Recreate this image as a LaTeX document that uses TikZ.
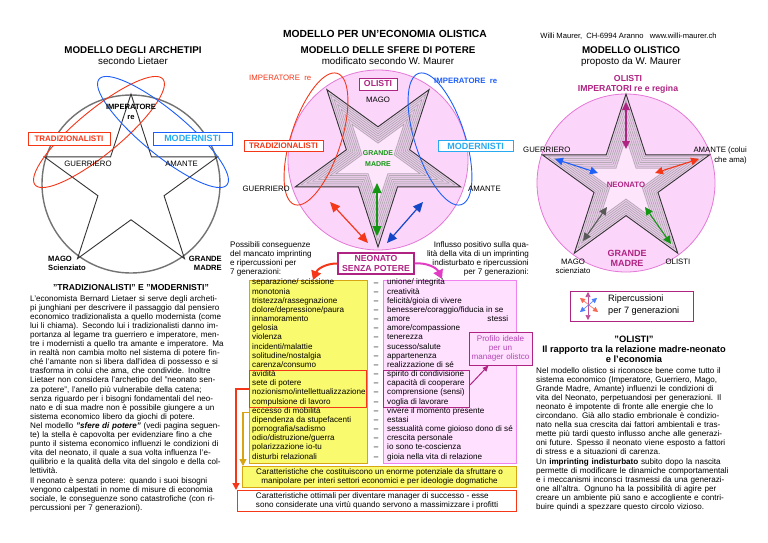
\documentclass[tikz,border=0pt]{standalone}
\usepackage{fontspec}
\setmainfont{Liberation Sans}
\usetikzlibrary{arrows.meta}

\definecolor{pinkfill}{RGB}{252,214,250}
\definecolor{pinkline}{RGB}{228,120,214}
\definecolor{starfill}{RGB}{232,202,232}
\definecolor{starcore}{RGB}{253,230,252}
\definecolor{olred}{RGB}{245,55,25}
\definecolor{olblue}{RGB}{30,95,250}
\definecolor{olcyan}{RGB}{40,170,240}
\definecolor{oldblue}{RGB}{20,70,200}
\definecolor{olgreen}{RGB}{20,150,20}
\definecolor{olmag}{RGB}{175,35,130}
\definecolor{olpink}{RGB}{225,60,195}
\definecolor{olyellow}{RGB}{250,250,110}
\definecolor{olgold}{RGB}{215,165,20}
\definecolor{boxpink}{RGB}{255,225,255}
\definecolor{boxline}{RGB}{240,130,240}
\definecolor{proftext}{RGB}{180,70,180}

\newcommand{\bodyf}{\fontsize{8.1}{9.1}\selectfont}
\newcommand{\listf}{\fontsize{8.1}{9.16}\selectfont}
\newcommand{\lblf}{\fontsize{7.8}{9}\selectfont}
\newcommand{\headf}{\fontsize{9.8}{11}\selectfont}
% one justified line of a paragraph
\newcommand{\jl}[1]{\makebox[\linewidth][s]{#1}\\}
% five pointed star: radius, angle of first tip
\newcommand{\pentagram}[2]{({#2}:{#1}) \foreach \k in {1,...,9}{ -- ({#2+36*\k}:{(#1)*(1-0.618*mod(\k,2))}) } -- cycle}

\begin{document}
\begin{tikzpicture}[x=1pt,y=-1pt,font=\lblf]
\tikzstyle{every node}=[inner sep=0pt]
\tikzstyle{heading}=[font=\headf\bfseries,anchor=base]
\tikzstyle{subheading}=[font=\headf,anchor=base]
\tikzstyle{tag}=[draw,fill=white,line width=0.8pt,font=\fontsize{8}{9}\selectfont\bfseries]
\tikzstyle{para}=[font=\bodyf,align=left,anchor=base west]
\tikzstyle{bigarrow}=[{Triangle[length=10pt,width=9pt]}-{Triangle[length=10pt,width=9pt]},line width=1.2pt]
\tikzstyle{midarrow}=[{Triangle[length=8pt,width=7.5pt]}-{Triangle[length=8pt,width=7.5pt]},line width=1.1pt]
\tikzstyle{tinyarrow}=[{Triangle[length=5pt,width=5pt]}-{Triangle[length=5pt,width=5pt]},line width=0.6pt]
\tikzstyle{starline}=[draw=black!80,line width=0.9pt]
\tikzstyle{nestline}=[draw=black!40,line width=0.35pt]

\fill[white] (0,0) rectangle (768,543);
\useasboundingbox (0,0) rectangle (768,543);

% titles (multi-line nodes sit on the baseline of their last line)
\node[heading,font=\fontsize{10.3}{12}\selectfont\bfseries] (maintitle) at (385,37.7) {MODELLO PER UN'ECONOMIA OLISTICA};
\node[anchor=base,font=\fontsize{7.6}{9}\selectfont] (author) at (628.5,38) {Willi Maurer,\ \ CH-6994 Aranno\ \ \ www.willi-maurer.ch};
\node[heading] (archtitle) at (133,53.5) {MODELLO DEGLI ARCHETIPI};
\node[subheading] (archsub) at (133,64.5) {secondo Lietaer};
\node[heading] (sferetitle) at (388,53.5) {MODELLO DELLE SFERE DI POTERE};
\node[subheading] (sferesub) at (388,64.5) {modificato secondo W. Maurer};
\node[heading] (olititle) at (631,53.5) {MODELLO OLISTICO};
\node[subheading] (olisub) at (631,64.5) {proposto da W. Maurer};

% archetypes after Lietaer
\begin{scope}[shift={(131,185)}]
  \draw[draw=black!55,line width=1.4pt] (0,-1) circle[radius=89pt];
  \draw[starline] \pentagram{91}{-90};
\end{scope}
\draw[olred,line width=0.9pt,rotate around={39.6:(99,132)}] (99,132) ellipse[x radius=83pt,y radius=22pt];
\draw[olblue,line width=0.9pt,rotate around={140.4:(163,132)}] (163,132) ellipse[x radius=83pt,y radius=22pt];

\node[font=\fontsize{7.6}{9.5}\selectfont\bfseries,align=center,anchor=base] (impL) at (131,119) {IMPERATORE\\re};
\node[tag,draw=olred,text=olred,minimum width=82pt,minimum height=13pt] (tradL) at (69,138.5) {TRADIZIONALISTI};
\node[tag,draw=olblue,text=olcyan,font=\fontsize{9}{10}\selectfont\bfseries,minimum width=79pt,minimum height=13pt] (modL) at (192.5,138.5) {MODERNISTI};
\node[anchor=base] (guerL) at (88,166) {GUERRIERO};
\node[anchor=base] (amaL) at (181.5,166) {AMANTE};
\node[font=\fontsize{7.6}{9}\selectfont\bfseries,align=left,anchor=base west] (magoL) at (48,270) {MAGO\\Scienziato};
\node[font=\fontsize{7.6}{9}\selectfont\bfseries,align=right,anchor=base east] (madreL) at (222,270) {GRANDE\\MADRE};

\node[heading,font=\fontsize{8.6}{10}\selectfont\bfseries] (tmtitle) at (131,290) {"TRADIZIONALISTI" E "MODERNISTI"};
\node[para,text width=198pt] (tmtext) at (30,301) {%
\jl{L'economista Bernard Lietaer si serve degli archeti-}
\jl{pi junghiani per descrivere il passaggio dal pensiero}
\jl{economico tradizionalista a quello modernista (come}
\jl{lui li chiama). Secondo lui i tradizionalisti danno im-}
\jl{portanza al legame tra guerriero e imperatore, men-}
\jl{tre i modernisti a quello tra amante e imperatore. Ma}
\jl{in realtà non cambia molto nel sistema di potere fin-}
\jl{ché l'amante non si libera dall'idea di possesso e si}
\jl{trasforma in colui che ama, che condivide. Inoltre}
\jl{Lietaer non considera l'archetipo del "neonato sen-}
\jl{za potere", l'anello più vulnerabile della catena;}
\jl{senza riguardo per i bisogni fondamentali del neo-}
\jl{nato e di sua madre non è possibile giungere a un}
sistema economico libero da giochi di potere.\\
\jl{Nel modello \textbf{\textit{"sfere di potere"}} (vedi pagina seguen-}
\jl{te) la stella è capovolta per evidenziare fino a che}
\jl{punto il sistema economico influenzi le condizioni di}
\jl{vita del neonato, il quale a sua volta influenza l'e-}
\jl{quilibrio e la qualità della vita del singolo e della col-}
lettività.\\
\jl{Il neonato è senza potere: quando i suoi bisogni}
\jl{vengono calpestati in nome di misure di economia}
\jl{sociale, le conseguenze sono catastrofiche (con ri-}
percussioni per 7 generazioni).};

% spheres of power
\begin{scope}[shift={(378,160)}]
  \draw[fill=pinkfill,draw=pinkline,line width=0.8pt] (0,0) circle[radius=90pt];
  \fill[starfill] \pentagram{87}{90};
  \foreach \s in {0.93,0.86,0.79,0.72,0.65,0.58,0.51}
    \draw[nestline] \pentagram{87*\s}{90};
  \fill[starcore] \pentagram{87*0.48}{90};
  \draw[starline] \pentagram{87}{90};
\end{scope}
\draw[olred,line width=0.9pt,rotate around={72:(316,139)}] (316,139) ellipse[x radius=69pt,y radius=25pt];
\draw[olblue,line width=0.9pt,rotate around={108:(440,139)}] (440,139) ellipse[x radius=69pt,y radius=25pt];

\node[anchor=base west,text=olred] (impRed) at (249,81) {IMPERATORE\ \ re};
\node[anchor=base west,text=olblue,font=\lblf\bfseries] (impBlue) at (434,84) {IMPERATORE\ \ re};
\node[tag,draw=olmag,text=olmag,line width=1pt,font=\fontsize{8.7}{10}\selectfont\bfseries,minimum width=38pt,minimum height=12pt] (olistiM) at (378,84) {OLISTI};
\node[anchor=base] (magoM) at (378,102) {MAGO};
\node[tag,draw=olred,text=olred,minimum width=79pt,minimum height=10.5pt] (tradM) at (283.5,146) {TRADIZIONALISTI};
\node[tag,draw=olcyan,text=olcyan,font=\fontsize{9}{10}\selectfont\bfseries,minimum width=75pt,minimum height=10.5pt] (modM) at (475.5,146) {MODERNISTI};
\node[font=\fontsize{7}{11}\selectfont\bfseries,text=olgreen,align=center,anchor=base] (madreM) at (378,166.5) {GRANDE\\MADRE};
\node[anchor=base east] (guerM) at (290,191) {GUERRIERO};
\node[anchor=base west] (amaM) at (468,191) {AMANTE};

\coordinate (redA) at (330,202); \coordinate (redB) at (368,243);
\coordinate (grnA) at (377,183); \coordinate (grnB) at (377,236);
\coordinate (bluA) at (423,202); \coordinate (bluB) at (387,243);
\draw[bigarrow,olred] (redA) -- (redB);
\draw[bigarrow,olgreen] (grnA) -- (grnB);
\draw[bigarrow,oldblue] (bluA) -- (bluB);

\node[tag,draw=olmag,text=olmag,line width=1.2pt,font=\fontsize{8.7}{10.5}\selectfont\bfseries,align=center,minimum width=76pt,minimum height=21pt] (neonato) at (376,263.5) {NEONATO\\SENZA POTERE};
\node[para,font=\fontsize{8.1}{9.2}\selectfont] (negintro) at (230,274.6) {Possibili conseguenze\\del mancato imprinting\\e ripercussioni per\\7 generazioni:};
\node[font=\fontsize{8.1}{9.2}\selectfont,align=right,anchor=base east] (posintro) at (529,274.6) {Influsso positivo sulla qua-\\lità della vita di un imprinting\\indisturbato e ripercussioni\\per 7 generazioni:};

% the two lists
\node[draw=olgold,fill=olyellow,line width=1.2pt,minimum width=118pt,minimum height=183pt,anchor=north west] (negbox) at (249,280) {};
\node[draw=boxline,fill=boxpink,line width=1pt,minimum width=133pt,minimum height=183pt,anchor=north west] (posbox) at (383,280) {};
\node[draw=olred,line width=1pt,minimum width=117pt,minimum height=37pt,anchor=north west] (greedbox) at (249,370) {};
\node[draw=olmag,line width=1pt,minimum width=86pt,minimum height=37pt,anchor=north west] (coopbox) at (383,370) {};

\node[font=\listf,align=left,anchor=base west] (neglist) at (252,459) {separazione/ scissione\\monotonia\\tristezza/rassegnazione\\dolore/depressione/paura\\innamoramento\\gelosia\\violenza\\incidenti/malattie\\solitudine/nostalgia\\carenza/consumo\\avidità\\sete di potere\\nozionismo/intellettualizzazione\\compulsione di lavoro\\eccesso di mobilità\\dipendenza da stupefacenti\\pornografia/sadismo\\odio/distruzione/guerra\\polarizzazione io-tu\\disturbi relazionali};
\node[font=\listf,align=left,anchor=base west] (poslist) at (387,459) {unione/ integrità\\creatività\\felicità/gioia di vivere\\benessere/coraggio/fiducia in se\\\makebox[121pt]{amore\hfill stessi}\\amore/compassione\\tenerezza\\sucesso/salute\\appartenenza\\realizzazione di sé\\spirito di condivisione\\capacità di cooperare\\comprensione (sensi)\\voglia di lavorare\\vivere il momento presente\\estasi\\sessualità come gioioso dono di sé\\crescita personale\\io sono te-coscienza\\gioia nella vita di relazione};
\foreach \i in {0,...,19}
  \node[font=\listf,anchor=base] (dash\i) at (376,285+9.16*\i) {–};

\coordinate (negtip) at (313,280);
\coordinate (postip) at (442,279);
\draw[olred,line width=2pt,-{Triangle[length=9pt,width=10pt]}] (neonato.west) to[bend right=35] (negtip);
\draw[olpink,line width=2pt,-{Triangle[length=9pt,width=10pt]}] (neonato.east) to[bend left=35] (postip);

\node[draw=olmag,fill=boxpink,line width=0.8pt,text width=63pt,align=center,font=\bodyf,text=proftext,minimum height=33pt] (profilo) at (500.5,348.5) {Profilo ideale\\per un\\manager olistco};
\draw[olmag,line width=1pt,-{Triangle[length=6pt,width=5pt]}] ([yshift=4pt]coopbox.east) -- ([xshift=-12pt]profilo.south);

\node[draw=olgold,fill=olyellow,line width=1.2pt,minimum width=274pt,minimum height=21pt,font=\bodyf,align=center,anchor=north west] (cap1) at (242,466) {Caratteristiche che costituiscono un enorme potenziale da sfruttare o\\manipolare per interi settori economici e per ideologie dogmatiche};
\node[draw=olred,fill=white,line width=1.2pt,minimum width=279pt,minimum height=21pt,font=\bodyf,align=left,anchor=north west] (cap2) at (237,490) {Caratteristiche ottimali per diventare manager di successo - esse\\sono considerate una virtù quando servono a massimizzare i profitti};
\draw[olgold,line width=1.5pt,-{Triangle[length=7pt,width=7pt]}] ([yshift=-40.5pt]negbox.west) -| ([xshift=1pt]cap1.north west);
\draw[olred,line width=1.5pt,-{Triangle[length=7pt,width=7pt]}] (greedbox.west) -| ([xshift=-1pt]cap2.north west);

% holistic model
\begin{scope}[shift={(626,182)}]
  \draw[fill=pinkfill,draw=pinkline,line width=0.8pt] (0,1) circle[radius=89pt];
  \fill[starfill] \pentagram{88}{-90};
  \foreach \s in {0.93,0.86,0.79,0.72,0.65,0.58,0.51}
    \draw[nestline] \pentagram{88*\s}{-90};
  \fill[starcore] \pentagram{88*0.48}{-90};
  \draw[starline] \pentagram{88}{-90};
\end{scope}

\node[font=\fontsize{8.7}{10}\selectfont\bfseries,text=olmag,align=center,anchor=base] (olistiR) at (628,92) {OLISTI\\IMPERATORI re e regina};
\node[anchor=base west] (guerR) at (523,152) {GUERRIERO};
\node[align=right,anchor=base east,font=\fontsize{7.8}{10}\selectfont] (amaR) at (747,162) {AMANTE (colui\\che ama)};
\node[font=\lblf\bfseries,text=olmag,anchor=base] (neoR) at (626,187) {NEONATO};
\node[font=\fontsize{9}{10}\selectfont\bfseries,text=olmag,align=center,anchor=base] (madreR) at (627,266.5) {GRANDE\\MADRE};
\node[align=center,anchor=base] (magoR) at (573,273) {MAGO\\scienziato};
\node[anchor=base] (olistiR2) at (678,264) {OLISTI};

\coordinate (magA) at (626,102); \coordinate (magB) at (626,149);
\coordinate (bluC) at (555,159); \coordinate (bluD) at (598,173);
\coordinate (redC) at (655,173); \coordinate (redD) at (699,159);
\coordinate (gryA) at (607,207); \coordinate (gryB) at (583,241);
\coordinate (grnC) at (645,207); \coordinate (grnD) at (671,244);
\draw[midarrow,olmag] (magA) -- (magB);
\draw[midarrow,olblue] (bluC) -- (bluD);
\draw[midarrow,olred] (redC) -- (redD);
\draw[midarrow,black!65] (gryA) -- (gryB);
\draw[midarrow,olgreen] (grnC) -- (grnD);

% legend
\node[draw=olmag,line width=0.8pt,minimum width=123pt,minimum height=30pt,anchor=north west] (legend) at (570,291) {};
\coordinate (lgRa) at (580,298); \coordinate (lgRb) at (598,312);
\coordinate (lgBa) at (597,298); \coordinate (lgBb) at (580,312);
\coordinate (lgMa) at (588,292); \coordinate (lgMb) at (588,320);
\draw[tinyarrow,olmag!80] (lgMa) -- (lgMb);
\draw[tinyarrow,olred!75] (lgRa) -- (lgRb);
\draw[tinyarrow,olblue!80] (lgBa) -- (lgBb);
\node[font=\fontsize{9.2}{12}\selectfont,align=left,anchor=base west] (legtext) at (608,313.5) {Ripercussioni\\per 7 generazioni};

\node[font=\fontsize{9.3}{10}\selectfont\bfseries,align=center,anchor=base] (olihead) at (634,362.5) {"OLISTI"\\Il rapporto tra la relazione madre-neonato\\e l'economia};
\node[para,text width=196pt] (olitext) at (536,373) {%
\jl{Nel modello olistico si riconosce bene come tutto il}
\jl{sistema economico (Imperatore, Guerriero, Mago,}
\jl{Grande Madre, Amante) influenzi le condizioni di}
\jl{vita del Neonato, perpetuandosi per generazioni. Il}
\jl{neonato è impotente di fronte alle energie che lo}
\jl{circondano. Già allo stadio embrionale è condizio-}
\jl{nato nella sua crescita dai fattori ambientali e tras-}
\jl{mette più tardi questo influsso anche alle generazi-}
\jl{oni future. Spesso il neonato viene esposto a fattori}
di stress e a situazioni di carenza.\\
\jl{Un \textbf{imprinting indisturbato} subito dopo la nascita}
\jl{permette di modificare le dinamiche comportamentali}
\jl{e i meccanismi inconsci trasmessi da una generazi-}
\jl{one all'altra. Ognuno ha la possibilità di agire per}
\jl{creare un ambiente più sano e accogliente e contri-}
buire quindi a spezzare questo circolo vizioso.};
\end{tikzpicture}
\end{document}
